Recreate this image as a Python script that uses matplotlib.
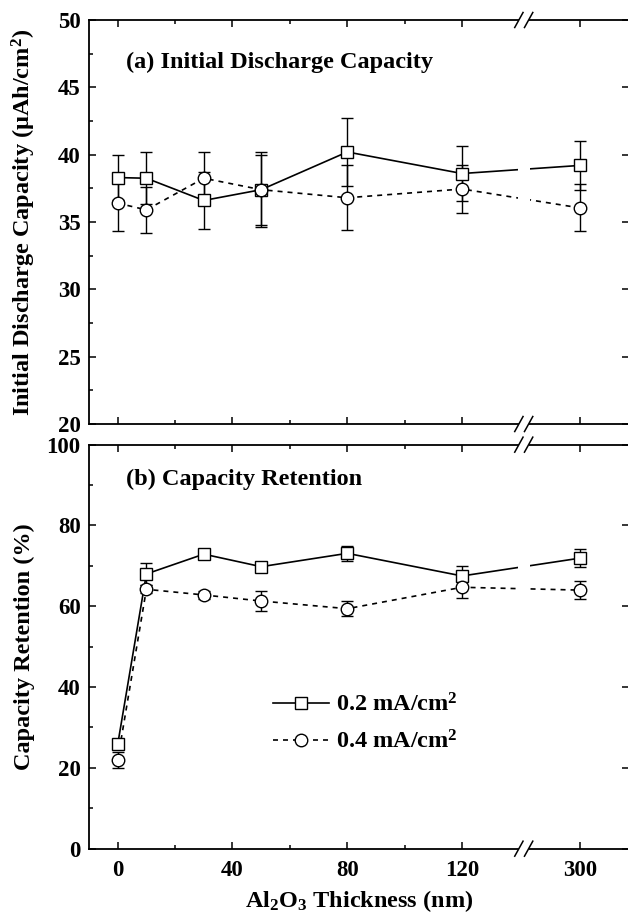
import numpy as np
import matplotlib
matplotlib.use("Agg")
from matplotlib import pyplot as plt
from matplotlib.ticker import MultipleLocator, FixedLocator
from matplotlib.lines import Line2D

plt.rcParams['font.family'] = ['Liberation Serif', 'DejaVu Serif']
plt.rcParams['font.weight'] = 'bold'
plt.rcParams['mathtext.fontset'] = 'custom'
plt.rcParams['mathtext.rm'] = 'Liberation Serif:bold'
plt.rcParams['mathtext.it'] = 'Liberation Serif:bold'
plt.rcParams['mathtext.bf'] = 'Liberation Serif:bold'

# Al2O3 thickness (nm)
thickness = np.array([0, 10, 30, 50, 80, 120, 300])

# (a) initial discharge capacity (uAh/cm2)
cap_02 = [38.3, 38.25, 36.6, 37.4, 40.2, 38.6, 39.2]
cap_02_err = [1.7, 1.95, 2.1, 2.8, 2.55, 2.05, 1.8]
cap_04 = [36.4, 35.9, 38.25, 37.4, 36.8, 37.45, 36.05]
cap_04_err = [2.1, 1.7, 1.95, 2.6, 2.4, 1.8, 1.75]

# (b) capacity retention (%)
ret_02 = [25.8, 68.0, 72.9, 69.8, 73.1, 67.5, 71.9]
ret_02_err = [1.1, 2.8, 1.0, 1.2, 1.9, 2.5, 2.3]
ret_04 = [22.0, 64.2, 62.8, 61.3, 59.4, 64.7, 64.0]
ret_04_err = [2.0, 1.0, 1.0, 2.5, 1.9, 2.7, 2.3]

xticks = [0, 40, 80, 120, 300]
xminor = [20, 60, 100]


def xpos(x):
    # broken axis: everything past the break is shifted left
    x = np.asarray(x, dtype=float)
    return np.where(x > 140, x - 139, x)


brk_lo, brk_hi = 139.8, 143.2

fig = plt.figure(figsize=(6.28, 9.17), dpi=100)
ax1 = fig.add_axes([0.1417, 0.5376, 0.8591, 0.4406])
ax2 = fig.add_axes([0.1417, 0.0745, 0.8591, 0.4406])

xp = xpos(thickness)


def draw(ax, y1, e1, y2, e2):
    ax.plot(xp, y1, color='black', lw=1.2, zorder=2)
    ax.plot(xp, y2, color='black', lw=1.2, dashes=(3, 3), zorder=2)
    ax.axvspan(brk_lo - 0.4, brk_hi + 0.4, color='white', lw=0, zorder=2.2)
    ax.errorbar(xp, y1, yerr=e1, fmt='s', ms=8.5, mfc='white', mec='black', mew=1,
                ecolor='black', elinewidth=1, capsize=4.5, capthick=1, zorder=3)
    ax.errorbar(xp, y2, yerr=e2, fmt='o', ms=9, mfc='white', mec='black', mew=1,
                ecolor='black', elinewidth=1, capsize=4.5, capthick=1, zorder=3)
    ax.set_xlim(-10, 178)
    ax.xaxis.set_major_locator(FixedLocator(xpos(xticks)))
    ax.xaxis.set_minor_locator(FixedLocator(xminor))
    ax.tick_params(which='both', direction='in', top=True, right=True, width=1.1)
    ax.tick_params(which='major', length=5)
    ax.tick_params(which='minor', length=3, right=False)
    ax.tick_params(axis='y', labelsize=16.5, pad=6)
    ax.tick_params(axis='x', labelsize=16.5, pad=8)
    for s in ax.spines.values():
        s.set_linewidth(1.3)
    # break marks on top and bottom spines
    tr = ax.get_xaxis_transform()
    for yy in (0, 1):
        ax.plot([brk_lo, brk_hi], [yy, yy], color='white', lw=3, transform=tr,
                clip_on=False, zorder=5, solid_capstyle='butt')
        for x0 in (brk_lo, brk_hi):
            ax.plot([x0 - 1.45, x0 + 1.45], [yy - 0.0186, yy + 0.0186], color='black',
                    lw=1.1, transform=tr, clip_on=False, zorder=6)


draw(ax1, cap_02, cap_02_err, cap_04, cap_04_err)
draw(ax2, ret_02, ret_02_err, ret_04, ret_04_err)

ax1.set_ylim(20, 50)
ax1.yaxis.set_major_locator(MultipleLocator(5))
ax1.yaxis.set_minor_locator(MultipleLocator(2.5))
ax1.set_xticklabels([])
ax1.set_ylabel('Initial Discharge Capacity (\u00b5Ah/cm$^2$)', fontsize=17.5, fontweight='bold')
ax1.yaxis.set_label_coords(-0.095, 0.5)
ax1.text(0.069, 0.894, '(a) Initial Discharge Capacity', transform=ax1.transAxes,
         fontsize=17.5, fontweight='bold', va='center', ha='left')

ax2.set_ylim(0, 100)
ax2.yaxis.set_major_locator(MultipleLocator(20))
ax2.yaxis.set_minor_locator(MultipleLocator(10))
ax2.set_xticklabels([str(t) for t in xticks])
ax2.set_ylabel('Capacity Retention (%)', fontsize=17.5, fontweight='bold')
ax2.yaxis.set_label_coords(-0.100, 0.5)
ax2.set_xlabel('Al$_2$O$_3$ Thickness (nm)', fontsize=17.5, fontweight='bold', labelpad=5)
ax2.text(0.069, 0.913, '(b) Capacity Retention', transform=ax2.transAxes,
         fontsize=17.5, fontweight='bold', va='center', ha='left')

h1 = Line2D([], [], color='black', lw=1.2, marker='s', ms=8.5, mfc='white', mec='black')
h2 = Line2D([], [], color='black', lw=1.2, dashes=(3, 3), marker='o', ms=9, mfc='white', mec='black')
ax2.legend([h1, h2], ['0.2 mA/cm$^2$', '0.4 mA/cm$^2$'], loc='center left',
           bbox_to_anchor=(0.30, 0.31), frameon=False, fontsize=17.5,
           handlelength=2.3, handletextpad=0.3, labelspacing=0.55)

fig.savefig('out.png', dpi=100)
